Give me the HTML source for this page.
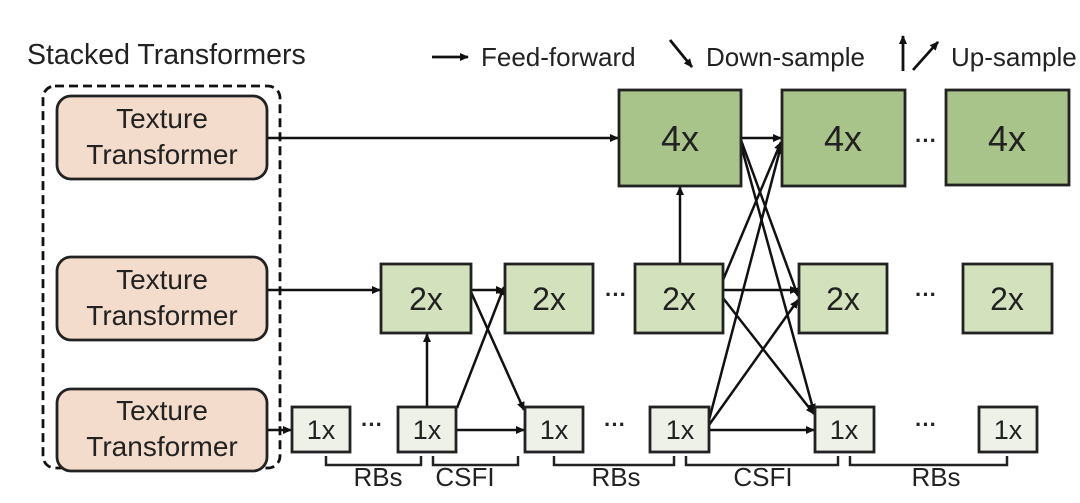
<!DOCTYPE html>
<html><head><meta charset="utf-8"><style>
body{margin:0;background:#fff}
svg{display:block}
text{font-family:"Liberation Sans",sans-serif;fill:#222}
</style></head><body>
<svg width="1080" height="503" viewBox="0 0 1080 503" xmlns="http://www.w3.org/2000/svg">
<defs><marker id="a" markerWidth="9" markerHeight="9" refX="8" refY="4.5" orient="auto" markerUnits="userSpaceOnUse"><path d="M0,0.5 L9,4.5 L0,8.5 z" fill="#111"/></marker></defs>
<text x="27" y="64" font-size="28.5">Stacked Transformers</text>
<line x1="432" y1="57" x2="468" y2="57" stroke="#111" stroke-width="2.8" marker-end="url(#a)"/>
<text x="481" y="66" font-size="26">Feed-forward</text>
<line x1="670" y1="40" x2="692" y2="67" stroke="#111" stroke-width="2.8" marker-end="url(#a)"/>
<text x="706" y="66" font-size="26">Down-sample</text>
<line x1="903" y1="71" x2="903" y2="36" stroke="#111" stroke-width="2.8" marker-end="url(#a)"/>
<line x1="913" y1="70" x2="938" y2="42" stroke="#111" stroke-width="2.8" marker-end="url(#a)"/>
<text x="951" y="66" font-size="26">Up-sample</text>
<rect x="43" y="86" width="237" height="382" rx="12" fill="none" stroke="#111" stroke-width="2.8" stroke-dasharray="9,5"/>
<g fill="#f3dccb" stroke="#222" stroke-width="2.8">
<rect x="57" y="96" width="210" height="83" rx="14"/>
<rect x="57" y="257" width="210" height="83" rx="14"/>
<rect x="57" y="389" width="210" height="82" rx="14"/>
</g>
<g font-size="28" text-anchor="middle">
<text x="162" y="128">Texture</text><text x="162" y="164">Transformer</text>
<text x="162" y="289">Texture</text><text x="162" y="325">Transformer</text>
<text x="162" y="420">Texture</text><text x="162" y="456">Transformer</text>
</g>
<g stroke="#111" stroke-width="2.5" fill="none" marker-end="url(#a)">
<line x1="268" y1="138" x2="618" y2="138"/>
<line x1="741" y1="138" x2="781" y2="138"/>
<line x1="268" y1="290" x2="380" y2="290"/>
<line x1="268" y1="430" x2="291" y2="430"/>
<line x1="471" y1="290" x2="504" y2="290"/>
<line x1="471" y1="292" x2="524" y2="410"/>
<line x1="457" y1="408" x2="504" y2="287"/>
<line x1="457" y1="430" x2="524" y2="430"/>
<line x1="427" y1="406" x2="427" y2="334"/>
<line x1="680" y1="264" x2="680" y2="187"/>
<line x1="741" y1="140" x2="798" y2="296"/>
<line x1="741" y1="145" x2="814" y2="412"/>
<line x1="723" y1="280" x2="781" y2="142"/>
<line x1="723" y1="290" x2="798" y2="290"/>
<line x1="723" y1="298" x2="814" y2="414"/>
<line x1="709" y1="420" x2="781" y2="146"/>
<line x1="709" y1="425" x2="798" y2="300"/>
<line x1="709" y1="430" x2="814" y2="430"/>
</g>
<g fill="#a9c48a" stroke="#222" stroke-width="2.8">
<rect x="619" y="90" width="122" height="96"/>
<rect x="782" y="90" width="123" height="96"/>
<rect x="946" y="90" width="123" height="95"/>
</g>
<g fill="#d3e2bd" stroke="#222" stroke-width="2.8">
<rect x="381" y="264" width="90" height="69"/>
<rect x="505" y="264" width="88" height="69"/>
<rect x="635" y="264" width="88" height="69"/>
<rect x="799" y="264" width="88" height="69"/>
<rect x="963" y="264" width="89" height="69"/>
</g>
<g fill="#eef1e8" stroke="#222" stroke-width="2.8">
<rect x="292" y="407" width="58" height="45"/>
<rect x="398" y="407" width="58" height="45"/>
<rect x="525" y="407" width="58" height="45"/>
<rect x="650" y="407" width="59" height="45"/>
<rect x="815" y="407" width="59" height="45"/>
<rect x="979" y="407" width="58" height="45"/>
</g>
<g font-size="36" text-anchor="middle">
<text x="680" y="151">4x</text><text x="843" y="151">4x</text><text x="1007" y="151">4x</text>
</g>
<g font-size="32" text-anchor="middle">
<text x="426" y="310">2x</text><text x="549" y="310">2x</text><text x="679" y="310">2x</text><text x="843" y="310">2x</text><text x="1007" y="310">2x</text>
</g>
<g font-size="27" text-anchor="middle">
<text x="321" y="439">1x</text><text x="427" y="439">1x</text><text x="554" y="439">1x</text><text x="680" y="439">1x</text><text x="844" y="439">1x</text><text x="1008" y="439">1x</text>
</g>
<g font-size="22" font-weight="bold" text-anchor="middle">
<text x="372" y="432">···</text><text x="615" y="432">···</text><text x="926" y="432">···</text>
<text x="616" y="302">···</text><text x="926" y="302">···</text><text x="926" y="148">···</text>
</g>
<g stroke="#222" stroke-width="2.5" fill="none">
<path d="M326,456 v9 h95 v-9"/>
<path d="M433,456 v9 h85 v-9"/>
<path d="M554,456 v9 h120 v-9"/>
<path d="M686,456 v9 h152 v-9"/>
<path d="M850,456 v9 h157 v-9"/>
</g>
<g font-size="26" text-anchor="middle">
<text x="378" y="486">RBs</text><text x="465" y="486">CSFI</text><text x="616" y="486">RBs</text><text x="763" y="486">CSFI</text><text x="936" y="486">RBs</text>
</g>
</svg>
</body></html>
